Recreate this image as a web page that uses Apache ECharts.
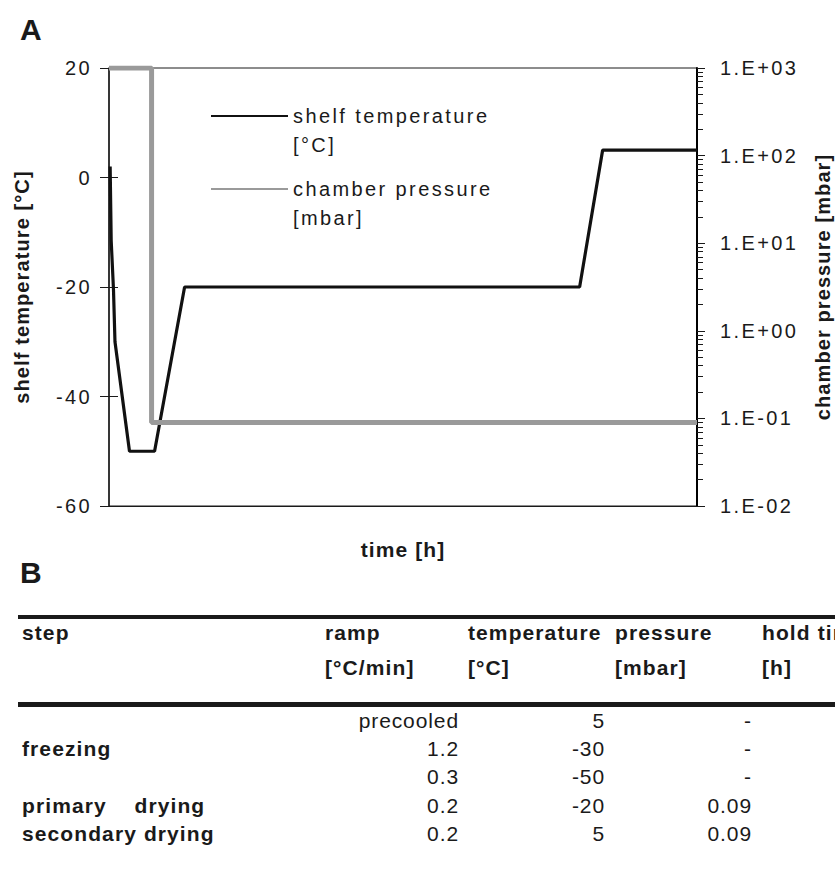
<!DOCTYPE html>
<html>
<head>
<meta charset="utf-8">
<script src="https://cdn.jsdelivr.net/npm/echarts@6/dist/echarts.min.js"></script>
<style>
  html, body { margin: 0; padding: 0; background: #fff; }
  #chart { width: 835px; height: 872px; }
  /* spacing of the Excel-style lettering */
  #chart text { letter-spacing: 2.4px; }
  #chart text[style*="Helvetica"] { letter-spacing: 0.9px; }
  #chart text[style*="bold"] { letter-spacing: 1.1px; }
</style>
</head>
<body>
<div id="chart"></div>
<script>
// Panel A: freeze-drying cycle, shelf temperature and chamber pressure over time
const shelfTimeH = [0.1, 0.19, 0.39, 0.52, 1.78, 3.96, 6.57, 40.9, 42.9, 51.1];
const shelfTempC = [2, -11.5, -20.5, -30, -50, -50, -20, -20, 5, 5];
const pressureTimeH = [0, 3.7, 3.7, 51.1];
const pressureMbar = [1000, 1000, 0.09, 0.09];
const pressureDecades = [0.01, 0.1, 1, 10, 100, 1000];

// Panel B: process table
const tableHeadTop = ['step', 'ramp', 'temperature', 'pressure', 'hold time'];
const tableHeadUnit = ['', '[°C/min]', '[°C]', '[mbar]', '[h]'];
const stepNames = ['', 'freezing', '', 'primary    drying', 'secondary drying'];
const rampValues = ['precooled', '1.2', '0.3', '0.2', '0.2'];
const tempValues = ['5', '-30', '-50', '-20', '5'];
const pressureValues = ['-', '-', '-', '0.09', '0.09'];

const seriesNames = ['shelf temperature\n[°C]', 'chamber pressure\n[mbar]'];

// minor log ticks 2..9 within each decade
const pressureMinor = [];
for (let d = 0; d < pressureDecades.length - 1; d++) {
  for (let k = 2; k <= 9; k++) pressureMinor.push(+(k * pressureDecades[d]).toPrecision(3));
}

const FONT = "'Liberation Sans', Arial, sans-serif";
const TFONT = "Helvetica, 'Liberation Sans', Arial, sans-serif";
const INK = '#1a1a1a';

function sci(v) {
  const e = Math.round(Math.log10(v));
  const s = e < 0 ? '-' : '+';
  return '1.E' + s + String(Math.abs(e)).padStart(2, '0');
}

const GRID = { left: 109, top: 68, width: 588, height: 438, outerBoundsMode: 'none', containLabel: false };

// table layout
const colX = [22, 325, 468, 615, 762];
const valRight = [459, 605, 752];
const headY = [632, 667];
const rowY0 = 720, rowStep = 28.4;

const graphics = [];
graphics.push({ type: 'text', style: { text: 'A', x: 20, y: 29, textVerticalAlign: 'middle', verticalAlign: 'middle', fill: INK, fontSize: 30, fontWeight: 'bold', fontFamily: FONT } });
graphics.push({ type: 'text', style: { text: 'B', x: 20, y: 572, textVerticalAlign: 'middle', verticalAlign: 'middle', fill: INK, fontSize: 30, fontWeight: 'bold', fontFamily: FONT } });
graphics.push({ type: 'rect', shape: { x: 18, y: 615, width: 817, height: 4 }, style: { fill: INK } });
graphics.push({ type: 'rect', shape: { x: 18, y: 702, width: 817, height: 5 }, style: { fill: INK } });

function tText(text, x, y, align, bold) {
  return {
    type: 'text',
    style: {
      text: text, x: x, y: y,
      textAlign: align, align: align,
      textVerticalAlign: 'middle', verticalAlign: 'middle',
      fill: INK, fontSize: 21, fontFamily: TFONT,
      fontWeight: bold ? 'bold' : 'normal'
    }
  };
}
tableHeadTop.forEach((t, i) => graphics.push(tText(t, colX[i], headY[0], 'left', true)));
tableHeadUnit.forEach((t, i) => { if (t) graphics.push(tText(t, colX[i], headY[1], 'left', true)); });
[rampValues, tempValues, pressureValues].forEach((col, c) => {
  col.forEach((t, r) => graphics.push(tText(t, valRight[c], rowY0 + r * rowStep, 'right', false)));
});
stepNames.forEach((t, r) => { if (t) graphics.push(tText(t, colX[0], rowY0 + r * rowStep, 'left', true)); });

// legend entries: line icon level with the first text line
const legendCommon = {
  orient: 'vertical',
  left: 205,
  itemWidth: 77,
  itemHeight: 14,
  selectedMode: false,
  itemStyle: { opacity: 0 },
  formatter: name => '\n' + name,
  textStyle: { fontSize: 20, lineHeight: 29, color: INK, fontFamily: FONT }
};

const chart = echarts.init(document.getElementById('chart'), null, { renderer: 'svg' });
chart.setOption({
  animation: false,
  backgroundColor: '#fff',
  textStyle: { fontFamily: FONT },
  grid: [
    Object.assign({ show: true, borderColor: INK, borderWidth: 1, backgroundColor: 'transparent' }, GRID),
    Object.assign({ show: false }, GRID)
  ],
  legend: [
    Object.assign({ data: [seriesNames[0]], top: 67.5 }, legendCommon),
    Object.assign({ data: [seriesNames[1]], top: 140.5 }, legendCommon)
  ],
  xAxis: [
    {
      type: 'value', gridIndex: 0, min: 0, max: 51.1,
      name: 'time [h]', nameLocation: 'middle', nameGap: 33,
      nameTextStyle: { fontSize: 21, fontWeight: 'bold', color: INK, fontFamily: FONT },
      axisLine: { onZero: false, lineStyle: { color: INK, width: 1 } },
      axisTick: { show: false }, axisLabel: { show: false }, splitLine: { show: false }
    },
    {
      type: 'value', gridIndex: 1, min: 0, max: 51.1, show: false
    }
  ],
  yAxis: [
    {
      type: 'value', gridIndex: 0, position: 'left', min: -60, max: 20, interval: 20,
      name: 'shelf temperature [°C]', nameLocation: 'middle', nameRotate: 90, nameGap: 77,
      nameTextStyle: { fontSize: 20, fontWeight: 'bold', color: INK, fontFamily: FONT },
      axisLine: { show: true, onZero: false, lineStyle: { color: INK, width: 1.5 } },
      axisTick: { show: true, inside: false, length: 9, lineStyle: { color: INK, width: 1 } },
      axisLabel: { fontSize: 20, color: INK, margin: 17, fontFamily: FONT },
      splitLine: { show: false }
    },
    {
      type: 'log', gridIndex: 0, position: 'right', logBase: 10, min: 0.01, max: 1000,
      name: 'chamber pressure [mbar]', nameLocation: 'middle', nameRotate: 90, nameGap: 116,
      nameTextStyle: { fontSize: 20, fontWeight: 'bold', color: INK, fontFamily: FONT },
      axisLine: { show: true, onZero: false, lineStyle: { color: '#000', width: 2 } },
      axisTick: { show: true, length: 8, lineStyle: { color: INK, width: 1 }, customValues: pressureDecades },
      axisLabel: { fontSize: 20, color: INK, margin: 23, fontFamily: FONT, formatter: sci, customValues: pressureDecades },
      splitLine: { show: false }
    },
    {
      type: 'log', gridIndex: 1, position: 'right', logBase: 10, min: 0.01, max: 1000,
      axisLine: { show: false, onZero: false },
      axisTick: { show: true, length: 6, lineStyle: { color: INK, width: 1 }, customValues: pressureMinor },
      axisLabel: { show: false },
      splitLine: { show: false }
    },
    {
      type: 'value', gridIndex: 1, position: 'left', min: -60, max: 20, interval: 20,
      axisLine: { show: false, onZero: false },
      axisTick: { show: true, inside: true, length: 9, lineStyle: { color: INK, width: 1 } },
      axisLabel: { show: false },
      splitLine: { show: false }
    }
  ],
  series: [
    {
      name: seriesNames[0], type: 'line', xAxisIndex: 0, yAxisIndex: 0, symbol: 'none',
      color: '#111', lineStyle: { color: '#111', width: 3.2 },
      data: shelfTimeH.map((t, i) => [t, shelfTempC[i]]),
      z: 2
    },
    {
      name: seriesNames[1], type: 'line', xAxisIndex: 0, yAxisIndex: 1, symbol: 'none',
      color: '#9a9a9a', lineStyle: { color: '#9a9a9a', width: 5 },
      data: pressureTimeH.map((t, i) => [t, pressureMbar[i]]),
      z: 3
    }
  ],
  graphic: graphics
});
</script>
</body>
</html>
